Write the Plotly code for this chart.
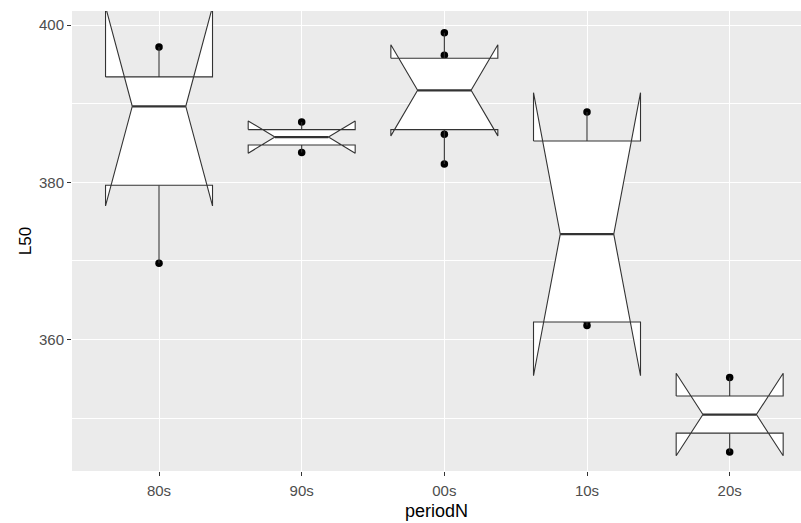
import plotly.graph_objects as go

# ---- data ----
periods = ["80s", "90s", "00s", "10s", "20s"]

# raw observations per period (points)
obs_80s = [369.7, 389.66, 397.2]
obs_90s = [383.78, 387.67]
obs_00s = [382.33, 386.1, 388.5, 394.6, 396.15, 399.03]
obs_10s = [361.78, 362.4, 384.0, 388.94]
obs_20s = [345.71, 355.17]

# box statistics (ggplot-style)
q1_vals = [379.62, 384.75, 386.7, 362.24, 348.1]
median_vals = [389.66, 385.75, 391.7, 373.4, 350.47]
q3_vals = [393.4, 386.7, 395.77, 385.25, 352.82]
lower_vals = [369.7, 383.78, 382.33, 361.78, 345.71]
upper_vals = [397.2, 387.67, 399.03, 388.94, 355.17]
notch_vals = [12.67, 2.05, 5.8, 18.0, 5.25]

y_ticks = [360, 380, 400]

# style
BOX_WIDTH = 0.75
NOTCH_WIDTH = 0.5
LINE_COL = "#333333"
FONT = "Liberation Sans"
XR = [-0.61, 4.5]
YR = [343.29, 401.78]

all_obs = [obs_80s, obs_90s, obs_00s, obs_10s, obs_20s]
pos = list(range(len(periods)))

fig = go.Figure()

# points (drawn first, under the boxes)
px_, py_ = [], []
for i, vals in zip(pos, all_obs):
    for v in vals:
        px_.append(i)
        py_.append(v)
fig.add_trace(go.Scatter(
    x=px_, y=py_, mode="markers",
    marker=dict(color="black", size=7.5, line=dict(width=0)),
    showlegend=False, hoverinfo="skip",
))

# whiskers
wx, wy = [], []
for i, lo, q1, q3, hi in zip(pos, lower_vals, q1_vals, q3_vals, upper_vals):
    wx += [i, i, None, i, i, None]
    wy += [q1, lo, None, q3, hi, None]
fig.add_trace(go.Scatter(
    x=wx, y=wy, mode="lines", line=dict(color=LINE_COL, width=1.1),
    showlegend=False, hoverinfo="skip",
))

# notched boxes
hw = BOX_WIDTH / 2
indent = (1 - NOTCH_WIDTH) * BOX_WIDTH / 2
for i, q1, med, q3, ns in zip(pos, q1_vals, median_vals, q3_vals, notch_vals):
    xmin, xmax = i - hw, i + hw
    nu, nl = med + ns, med - ns
    xs = [xmin, xmin, xmin + indent, xmin, xmin, xmax, xmax, xmax - indent, xmax, xmax, xmin]
    ys = [q3, nu, med, nl, q1, q1, nl, med, nu, q3, q3]
    fig.add_trace(go.Scatter(
        x=xs, y=ys, mode="lines", fill="toself", fillcolor="white",
        line=dict(color=LINE_COL, width=1.1),
        showlegend=False, hoverinfo="skip",
    ))

# median segments
mx, my = [], []
for i, med in zip(pos, median_vals):
    mx += [i - hw + indent, i + hw - indent, None]
    my += [med, med, None]
fig.add_trace(go.Scatter(
    x=mx, y=my, mode="lines", line=dict(color=LINE_COL, width=2.2),
    showlegend=False, hoverinfo="skip",
))

fig.update_layout(
    width=801, height=523,
    margin=dict(l=72, r=0, t=11, b=52),
    paper_bgcolor="white", plot_bgcolor="#EBEBEB",
    font=dict(family=FONT, color="#4D4D4D", size=15),
    xaxis=dict(
        range=XR, tickvals=pos, ticktext=periods,
        showgrid=True, gridcolor="white", gridwidth=1.1,
        zeroline=False, showline=False,
        ticks="outside", ticklen=4, tickcolor=LINE_COL, tickwidth=1.1,
        ticklabelstandoff=2,
        tickfont=dict(family=FONT, size=15, color="#4D4D4D"),
        title=dict(text="periodN", font=dict(family=FONT, size=18, color="black"), standoff=6),
    ),
    yaxis=dict(
        range=YR, tickvals=y_ticks, showgrid=True, gridcolor="white", gridwidth=1.1,
        zeroline=False, showline=False,
        ticks="outside", ticklen=4, tickcolor=LINE_COL, tickwidth=1.1,
        tickfont=dict(family=FONT, size=15, color="#4D4D4D"),
        minor=dict(dtick=10, tick0=350, showgrid=True, gridcolor="white", gridwidth=0.55, ticks=""),
        title=dict(text="L50", font=dict(family=FONT, size=17, color="black"), standoff=3),
    ),
)

fig.write_html("out.html")
